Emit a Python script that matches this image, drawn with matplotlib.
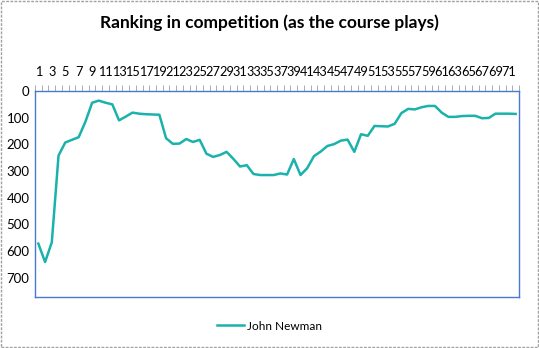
# Ranking over the course of the competition, Excel-style line chart
import numpy as np
import matplotlib.pyplot as plt
from matplotlib.patches import Rectangle

holes=list(range(1,73))
ranking=[572,641,567,242,193,183,173,115,44,36,
         44,50,110,96,81,85,87,88,89,177,
         198,197,180,191,183,235,247,240,228,254,
         283,278,311,315,315,315,309,313,255,315,
         289,244,227,206,199,186,182,228,162,168,
         131,132,133,123,83,67,69,61,56,56,
         81,97,97,94,93,93,102,101,85,85,
         85,86]
player="John Newman"
tick_labels=[str(h) for h in holes[::2]]

plt.rcParams["font.family"]=["Lato","DejaVu Sans"]

fig=plt.figure(figsize=(5.39,3.48),dpi=100)
ax=fig.add_axes([35/539,1-297/348,484/539,206/348])

ax.plot(holes,ranking,color="#1AB2AA",lw=1.8,label=player)

ax.set_xlim(0.5,72.5)
ax.set_ylim(772,0)
ax.set_yticks(range(0,800,100))
ax.tick_params(axis="y",labelsize=9.5,length=0,pad=4)

ax.xaxis.tick_top()
ax.set_xticks(holes[::2])
ax.set_xticklabels(tick_labels)
ax.set_xticks(np.arange(0.5,73,1),minor=True)
ax.tick_params(axis="x",which="major",length=0,labelsize=9.2,pad=9)
ax.tick_params(axis="x",which="minor",length=4,color="#a0a0a0",width=0.6,direction="out")

for s in ax.spines.values():
    s.set_color("#4A78D4")
    s.set_linestyle((0,(1,1)))
    s.set_linewidth(1.0)

fig.text(0.5,1-23/348,"Ranking in competition (as the course plays)",
         ha="center",va="center",fontsize=12.5,fontweight="bold")

fig.legend(loc="center",bbox_to_anchor=(0.5,1-326/348),frameon=False,
           fontsize=8.5,handlelength=2.3,handletextpad=0.2)

# dashed border round the whole chart area
fig.patches.append(Rectangle((0.002,0.003),0.996,0.994,transform=fig.transFigure,
                             fill=False,ec="#a0a0a0",lw=1,ls=(0,(2,1))))

fig.savefig("out.png",dpi=100)
